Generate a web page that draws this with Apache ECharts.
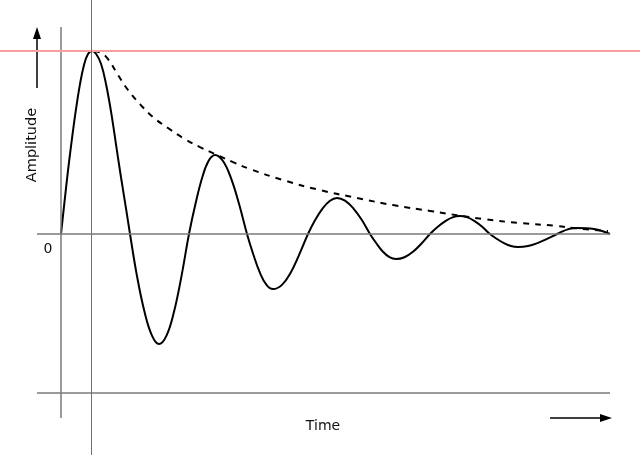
<!DOCTYPE html>
<html>
<head>
<meta charset="utf-8">
<script src="https://cdn.jsdelivr.net/npm/echarts@6/dist/echarts.min.js"></script>
<style>html,body{margin:0;padding:0;background:#fff}#c{width:640px;height:455px}</style>
</head>
<body>
<div id="c"></div>
<script>
// Damped oscillation (time units arbitrary, amplitude normalised to first peak)
var time = [0,0.3,0.7,1.1,1.5,1.9,2.3,2.7,3.1,3.5,4.0,4.5,5.0,5.5,6.0,6.5,6.9,
  7.6,8.35,9.1,9.8,10.55,11.3,12.05,12.8,
  13.45,14.1,14.75,15.4,16.2,17.0,17.8,18.6,
  19.25,19.9,20.55,21.2,22.1,22.95,23.8,24.7,
  25.4,26.15,26.9,27.6,28.4,29.25,30.1,30.9,
  31.55,32.2,32.85,33.5,34.35,35.2,36.05,36.9,
  37.65,38.4,39.15,39.9,40.65,41.4,42.15,42.9,
  43.6,44.3,45.0,45.7,46.7,47.65,48.6,49.6,
  50.1,50.6,51.2,51.7,52.5,53.3,54.1,54.9];
var amplitude = [0,0.151,0.346,0.522,0.682,0.819,0.924,0.983,1.000,0.985,0.930,0.820,0.670,0.490,0.310,0.140,0,
  -0.230,-0.425,-0.555,-0.601,-0.555,-0.425,-0.230,0,
  0.165,0.305,0.399,0.432,0.399,0.305,0.165,0,
  -0.115,-0.213,-0.278,-0.301,-0.278,-0.213,-0.115,0,
  0.075,0.139,0.182,0.197,0.182,0.139,0.075,0,
  -0.052,-0.097,-0.127,-0.137,-0.127,-0.097,-0.052,0,
  0.038,0.069,0.091,0.098,0.091,0.069,0.038,0,
  -0.027,-0.050,-0.066,-0.071,-0.066,-0.050,-0.027,0,
  0.013,0.024,0.031,0.033,0.032,0.027,0.016,0];
var envTime = [3.3,4.0,4.7,5.7,6.7,7.9,9.2,10.7,12.2,13.9,15.4,17.2,18.9,22.2,25.9,29.6,33.2,36.9,42.2,45.9,49.6,51.2,54.7];
var envelope = [1.000,0.989,0.956,0.869,0.787,0.710,0.639,0.579,0.525,0.475,0.437,0.393,0.355,0.295,0.240,0.197,0.158,0.126,0.082,0.060,0.044,0.033,0.016];
var peakLevel = 1.005, peakTime = 3.0, baseLevel = -0.869;
var axisStart = -2.4, axisEnd = 54.9, axisTop = 1.131, axisBottom = -1.005;

var curve = time.map(function(t,i){return [t, amplitude[i]];});
var env = envTime.map(function(t,i){return [t, envelope[i]];});
var gray = {color:'#7a7a7a', width:1.5, type:'solid'};

var chart = echarts.init(document.getElementById('c'), null, {renderer:'canvas'});
chart.setOption({
  animation:false,
  grid:{left:0,right:0,top:0,bottom:0},
  xAxis:{type:'value',min:-6.1,max:57.9,show:false},
  yAxis:{type:'value',min:-1.2077,max:1.2787,show:false},
  series:[
    {type:'line',data:[],silent:true,
     markLine:{silent:true,symbol:['none','none'],label:{show:false},animation:false,
       data:[
         [{coord:[axisStart,0]},{coord:[axisEnd,0]}],
         [{coord:[axisStart,baseLevel]},{coord:[axisEnd,baseLevel]}],
         [{coord:[0,axisTop]},{coord:[0,axisBottom]}]
       ],lineStyle:gray}},
    {type:'line',data:[],silent:true,
     markLine:{silent:true,symbol:['none','none'],label:{show:false},animation:false,
       data:[
         {yAxis:peakLevel,lineStyle:{color:'#f7a0a0',width:2,type:'solid'}},
         {xAxis:peakTime,lineStyle:{color:'#e04040',width:1,type:'solid'}}
       ]}},
    {type:'line',data:env,smooth:true,showSymbol:false,silent:true,
     lineStyle:{color:'#000',width:2,type:[6,6]}},
    {type:'line',data:curve,smooth:0.4,showSymbol:false,silent:true,
     lineStyle:{color:'#000',width:2}}
  ],
  graphic:[
    {type:'line',shape:{x1:37,y1:88,x2:37,y2:36},style:{stroke:'#000',lineWidth:1.5}},
    {type:'polygon',shape:{points:[[37,27],[33,39],[41,39]]},style:{fill:'#000'}},
    {type:'line',shape:{x1:550,y1:418,x2:602,y2:418},style:{stroke:'#000',lineWidth:1.5}},
    {type:'polygon',shape:{points:[[612,418],[600,414],[600,422]]},style:{fill:'#000'}},
    {type:'text',x:32,y:145,rotation:Math.PI/2,style:{text:'Amplitude',font:'14.5px "DejaVu Sans"',fill:'#111',align:'center',verticalAlign:'middle'}},
    {type:'text',x:323,y:426,style:{text:'Time',font:'14px "DejaVu Sans"',fill:'#111',align:'center',verticalAlign:'middle'}},
    {type:'text',x:48,y:249,style:{text:'0',font:'14px "DejaVu Sans"',fill:'#111',align:'center',verticalAlign:'middle'}}
  ]
});
</script>
</body>
</html>
